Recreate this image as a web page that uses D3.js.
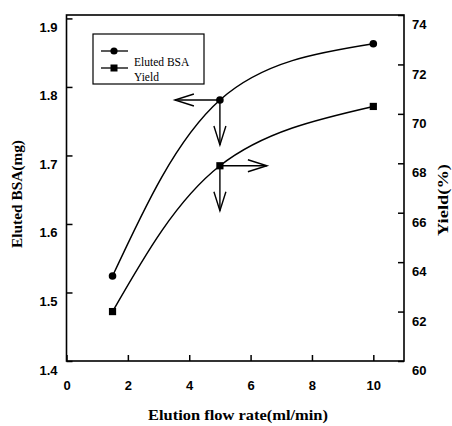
<!DOCTYPE html>
<html><head><meta charset="utf-8">
<script src="https://cdn.jsdelivr.net/npm/d3@7"></script>
<style>body{margin:0;background:#fff}</style>
</head><body>
<svg id="c" width="452" height="426"></svg>
<script>
const flowRate = [1.5, 5, 10];
const elutedBSA = [1.524, 1.781, 1.863];
const yieldPct = [62.0, 67.9, 70.3];
const xTicks = [0, 2, 4, 6, 8, 10];
const yLeftTicks = [1.4, 1.5, 1.6, 1.7, 1.8, 1.9];
const yRightTicks = [60, 62, 64, 66, 68, 70, 72, 74];
const legendLabels = ["Eluted BSA", "Yield"];

const svg = d3.select("#c");
const L = 66.5, R = 404, T = 15, B = 361;
const x = d3.scaleLinear().domain([0, 11]).range([L, R]);
const yL = d3.scaleLinear().domain([1.4, 1.905]).range([B, T]);
const yR = d3.scaleLinear().domain([60, 74]).range([B, T]);

const tickFont = "bold 13px 'Liberation Sans', Arial, sans-serif";
const titleFont = "bold 14px 'Liberation Serif', 'Times New Roman', serif";

// frame
svg.append("rect").attr("x", L).attr("y", T).attr("width", R - L).attr("height", B - T)
  .attr("fill", "none").attr("stroke", "#000").attr("stroke-width", 1.6);

// axes
const ax = d3.axisBottom(x).tickValues(xTicks).tickSize(-6).tickPadding(20).tickFormat(d3.format("d"));
const gx = svg.append("g").attr("transform", `translate(0,${B})`).call(ax);
const ayl = d3.axisLeft(yL).tickValues(yLeftTicks).tickSize(-6).tickPadding(9).tickFormat(d3.format(".1f"));
const gyl = svg.append("g").attr("transform", `translate(${L},0)`).call(ayl);
const ayr = d3.axisRight(yR).tickValues(yRightTicks).tickSize(-6).tickPadding(8).tickFormat(d3.format("d"));
const gyr = svg.append("g").attr("transform", `translate(${R},0)`).call(ayr);
[gx, gyl, gyr].forEach(g => {
  g.select(".domain").remove();
  g.selectAll(".tick line").attr("stroke", "#000").attr("stroke-width", 1.5);
  g.selectAll(".tick text").style("font", tickFont).attr("fill", "#000");
});
gyl.selectAll(".tick text").attr("dy", "1.0em");
gyr.selectAll(".tick text").attr("dy", "1.05em");

// curves
const line = (ys) => d3.line().x((d, i) => x(flowRate[i])).y((d, i) => ys(d)).curve(d3.curveNatural);
svg.append("path").datum(elutedBSA).attr("d", line(yL)).attr("fill", "none").attr("stroke", "#000").attr("stroke-width", 1.5);
svg.append("path").datum(yieldPct).attr("d", line(yR)).attr("fill", "none").attr("stroke", "#000").attr("stroke-width", 1.5);

svg.selectAll(".c1").data(elutedBSA).enter().append("circle")
  .attr("cx", (d, i) => x(flowRate[i])).attr("cy", d => yL(d)).attr("r", 3.8).attr("fill", "#000");
svg.selectAll(".s1").data(yieldPct).enter().append("rect")
  .attr("x", (d, i) => x(flowRate[i]) - 3.6).attr("y", d => yR(d) - 3.6).attr("width", 7.2).attr("height", 7.2).attr("fill", "#000");

// arrows
function arrow(x0, y0, dx, dy) {
  const x1 = x0 + dx, y1 = y0 + dy;
  const len = Math.hypot(dx, dy), ux = dx / len, uy = dy / len;
  const hl = 19, hw = 6;
  const g = svg.append("g").attr("stroke", "#000").attr("stroke-width", 1.4).attr("fill", "none");
  g.append("line").attr("x1", x0).attr("y1", y0).attr("x2", x1).attr("y2", y1);
  g.append("path").attr("d",
    `M${x1 - ux * hl - uy * hw},${y1 - uy * hl + ux * hw}L${x1},${y1}L${x1 - ux * hl + uy * hw},${y1 - uy * hl - ux * hw}`);
}
const bx = x(flowRate[1]), by = yL(elutedBSA[1]), yy = yR(yieldPct[1]);
arrow(bx, by, -45, 0);
arrow(bx, by, 0, 45);
arrow(bx, yy, 47, 0);
arrow(bx, yy, 0, 45);

// legend
svg.append("rect").attr("x", 93).attr("y", 34).attr("width", 111).attr("height", 50)
  .attr("fill", "#fff").attr("stroke", "#000").attr("stroke-width", 1.2);
[51, 68].forEach((ly, i) => {
  svg.append("line").attr("x1", 101).attr("x2", 128).attr("y1", ly).attr("y2", ly).attr("stroke", "#000").attr("stroke-width", 1.3);
  if (i === 0) svg.append("circle").attr("cx", 114).attr("cy", ly).attr("r", 3.6).attr("fill", "#000");
  else svg.append("rect").attr("x", 110.5).attr("y", ly - 3.5).attr("width", 7).attr("height", 7).attr("fill", "#000");
});
legendLabels.forEach((t, i) => {
  svg.append("text").attr("x", 134).attr("y", 66 + i * 15).text(t)
    .style("font", "11.5px 'Liberation Serif', 'Times New Roman', serif").attr("fill", "#000");
});

// titles
svg.append("text").attr("x", 238).attr("y", 420).attr("text-anchor", "middle").text("Elution flow rate(ml/min)")
  .attr("textLength", 180).attr("lengthAdjust", "spacingAndGlyphs").style("font", titleFont);
svg.append("text").attr("transform", "translate(22,194) rotate(-90)").attr("text-anchor", "middle").text("Eluted BSA(mg)")
  .attr("textLength", 108).attr("lengthAdjust", "spacingAndGlyphs").style("font", titleFont);
svg.append("text").attr("transform", "translate(448,200) rotate(-90)").attr("text-anchor", "middle").text("Yield(%)")
  .attr("textLength", 72).attr("lengthAdjust", "spacingAndGlyphs").style("font", titleFont);
</script>
</body></html>
